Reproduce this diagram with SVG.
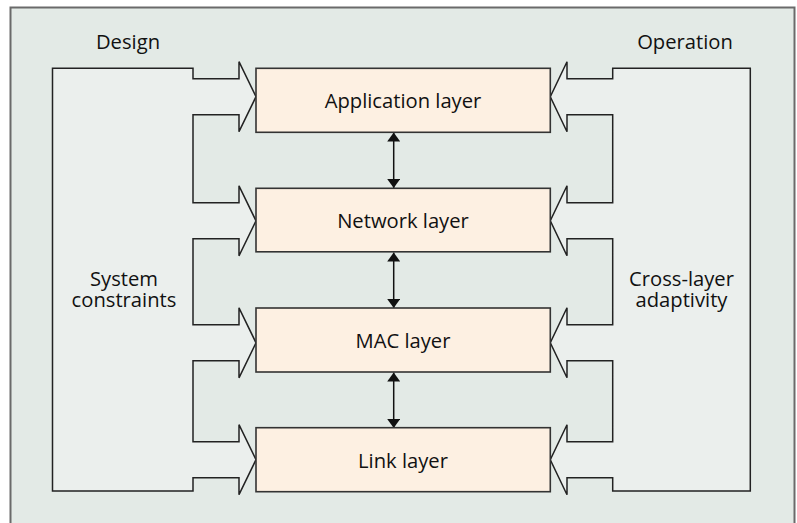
<svg xmlns="http://www.w3.org/2000/svg" width="797" height="523" viewBox="0 0 797 523">
<style>
.frame{fill:#e3eae6;stroke:#6a6a6a;stroke-width:2}
.comb{fill:#ebefed;stroke:#222;stroke-width:1.5;stroke-linejoin:miter}
.box{fill:#fdf0e2;stroke:#333;stroke-width:1.6}
.t{font-family:"Open Sans","Noto Sans",sans-serif;font-size:20.2px;fill:#111;text-anchor:middle}
.dbl{stroke:#111;stroke-width:1.5;fill:none;marker-start:url(#ah);marker-end:url(#ah)}
</style>
<defs>
<marker id="ah" viewBox="0 0 10 10" refX="10" refY="5" markerWidth="9" markerHeight="13" markerUnits="userSpaceOnUse" orient="auto-start-reverse" preserveAspectRatio="none">
<path d="M0,0 L10,5 L0,10 Z" fill="#111"/>
</marker>
</defs>
<rect class="frame" x="10.5" y="7.5" width="784" height="522"/>
<g id="connectors">
<path id="design-comb" class="comb" d="M52.5,68.3 H193 V78.7 H239 V61.7 L256,96.7 L239,131.7 V114.7 H193 V202.8 H239 V185.8 L256,220.8 L239,255.8 V238.8 H193 V324.8 H239 V307.8 L256,342.8 L239,377.8 V360.8 H193 V441.7 H239 V424.7 L256,459.7 L239,494.7 V477.7 H193 V491 H52.5 Z"/>
<path id="operation-comb" class="comb" d="M750.3,68.3 H612.7 V78.7 H567 V61.7 L550.3,96.7 L567,131.7 V114.7 H612.7 V202.8 H567 V185.8 L550.3,220.8 L567,255.8 V238.8 H612.7 V324.8 H567 V307.8 L550.3,342.8 L567,377.8 V360.8 H612.7 V441.7 H567 V424.7 L550.3,459.7 L567,494.7 V477.7 H612.7 V491 H750.3 Z"/>
<line class="dbl" x1="393.7" y1="132.5" x2="393.7" y2="188"/>
<line class="dbl" x1="393.7" y1="252.5" x2="393.7" y2="308"/>
<line class="dbl" x1="393.7" y1="372.5" x2="393.7" y2="428"/>
</g>
<g id="design"><text class="t" x="128" y="49">Design</text></g>
<g id="operation"><text class="t" x="685" y="49">Operation</text></g>
<g id="system-constraints"><text class="t" x="124" y="285.5">System<tspan x="124" dy="21">constraints</tspan></text></g>
<g id="cross-layer-adaptivity"><text class="t" x="681.5" y="285.5">Cross-layer<tspan x="681.5" dy="21">adaptivity</tspan></text></g>
<g id="application-layer"><rect class="box" x="256" y="68.3" width="294.3" height="64"/><text class="t" x="403" y="108.3">Application layer</text></g>
<g id="network-layer"><rect class="box" x="256" y="188.3" width="294.3" height="63.5"/><text class="t" x="403" y="228">Network layer</text></g>
<g id="mac-layer"><rect class="box" x="256" y="308" width="294.3" height="64"/><text class="t" x="403" y="348">MAC layer</text></g>
<g id="link-layer"><rect class="box" x="256" y="427.7" width="294.3" height="64"/><text class="t" x="403" y="468">Link layer</text></g>
</svg>
